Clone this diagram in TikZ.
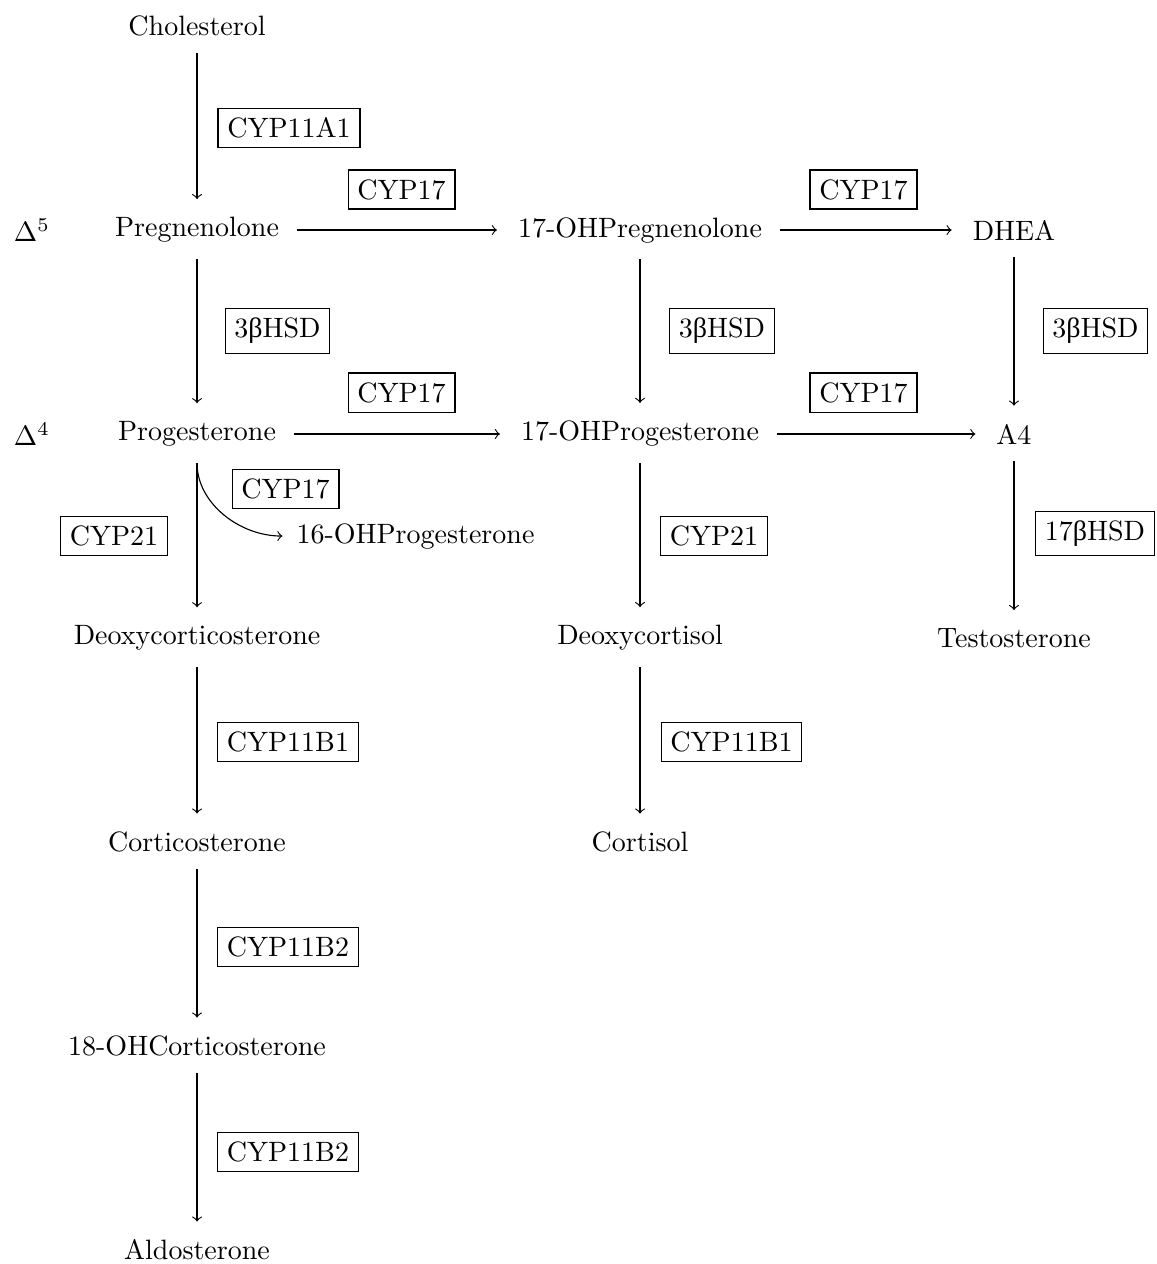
\documentclass[tikz,border=0pt]{standalone}
\usepackage{fontspec}
\newfontfamily\grkfont{Liberation Serif}
\newcommand{\bet}{{\grkfont β}}
\tikzset{
  enz/.style={draw, inner sep=3.33pt},
  vconv/.style={->, shorten <=2.4pt, shorten >=3pt},
  hconv/.style={->, shorten <=3pt, shorten >=4pt},
}
\begin{document}
\begin{tikzpicture}
\useasboundingbox (0,0) rectangle (14.522,-15.865);
% compounds
\node (chol) at (2.473,-0.326) {Cholesterol};
\node (preg) at (2.473,-2.887) {Pregnenolone};
\node (ohpreg) at (8.033,-2.887) {17-OHPregnenolone};
\node (dhea) at (12.727,-2.887) {DHEA};
\node (prog) at (2.473,-5.447) {Progesterone};
\node (ohprog) at (8.033,-5.447) {17-OHProgesterone};
\node (afour) at (12.727,-5.447) {A4};
\node (oh16) at (5.215,-6.728) {16-OHProgesterone};
\node (doc) at (2.473,-8.008) {Deoxycorticosterone};
\node (dcort) at (8.033,-8.008) {Deoxycortisol};
\node (testo) at (12.727,-8.008) {Testosterone};
\node (cortico) at (2.473,-10.569) {Corticosterone};
\node (cortisol) at (8.033,-10.569) {Cortisol};
\node (oh18) at (2.473,-13.129) {18-OHCorticosterone};
\node (aldo) at (2.473,-15.690) {Aldosterone};
\node (dfive) at (0.40,-2.887) {$\Delta^5$};
\node (dfour) at (0.40,-5.447) {$\Delta^4$};
% enzymes
\node[enz] (e11a1) at (3.627,-1.607) {CYP11A1};
\node[enz] (e17a) at (5.040,-2.379) {CYP17};
\node[enz] (e17b) at (10.838,-2.379) {CYP17};
\node[enz] (hsda) at (3.483,-4.155) {3\bet HSD};
\node[enz] (hsdb) at (9.062,-4.155) {3\bet HSD};
\node[enz] (hsdc) at (13.750,-4.155) {3\bet HSD};
\node[enz] (e17c) at (5.040,-4.927) {CYP17};
\node[enz] (e17d) at (10.838,-4.927) {CYP17};
\node[enz] (e17e) at (3.584,-6.132) {CYP17};
\node[enz] (e21a) at (1.431,-6.728) {CYP21};
\node[enz] (e21b) at (8.962,-6.728) {CYP21};
\node[enz] (hsdd) at (13.744,-6.696) {17\bet HSD};
\node[enz] (e11b1a) at (3.615,-9.313) {CYP11B1};
\node[enz] (e11b1b) at (9.182,-9.313) {CYP11B1};
\node[enz] (e11b2a) at (3.615,-11.887) {CYP11B2};
\node[enz] (e11b2b) at (3.615,-14.460) {CYP11B2};
% reactions
\draw[vconv] (chol) -- (preg);
\draw[hconv] (preg) -- (ohpreg);
\draw[hconv] (ohpreg) -- (dhea);
\draw[vconv] (preg) -- (prog);
\draw[vconv] (ohpreg) -- (ohprog);
\draw[vconv] (dhea) -- (afour);
\draw[hconv] (prog) -- (ohprog);
\draw[hconv] (ohprog) -- (afour);
\draw[->, shorten <=2.4pt, shorten >=1.5pt] (prog.south) to[out=-90, in=180] (oh16.west);
\draw[vconv] (prog) -- (doc);
\draw[vconv] (ohprog) -- (dcort);
\draw[vconv] (afour) -- (testo);
\draw[vconv] (doc) -- (cortico);
\draw[vconv] (dcort) -- (cortisol);
\draw[vconv] (cortico) -- (oh18);
\draw[vconv] (oh18) -- (aldo);
\end{tikzpicture}
\end{document}
